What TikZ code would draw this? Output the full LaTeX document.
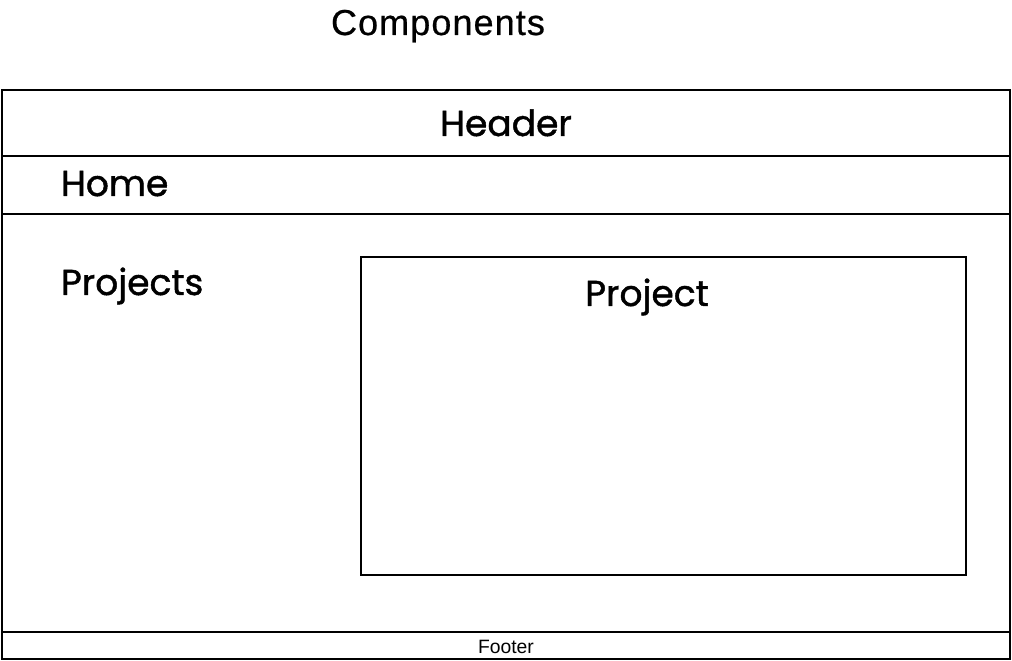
\documentclass[tikz,border=0pt]{standalone}
\usepackage{fontspec}
\setmainfont{Liberation Sans}
\newfontfamily\handfont[FakeBold=1.2]{Poppins}
\newfontfamily\titlefont[FakeBold=0.6, LetterSpace=3]{Liberation Sans}
\usepackage{tikz}
\usetikzlibrary{positioning}

\begin{document}
\begin{tikzpicture}[x=0.02cm, y=-0.02cm, line width=1.1pt]
  \tikzset{
    label/.style={inner sep=0pt, font=\handfont\fontsize{20.5}{24}\selectfont},
    small/.style={inner sep=0pt, font=\fontsize{11}{13}\selectfont}
  }
  \useasboundingbox (0,0) rectangle (1012,661);

  \node[inner sep=0pt, anchor=base, font=\titlefont\fontsize{20.5}{24}\selectfont] (title) at (438,35) {Components};

  % page frame and bands
  \draw (2,90) rectangle (1010,659);
  \draw (2,156) -- (1010,156);
  \draw (2,214) -- (1010,214);
  \draw (2,632) -- (1010,632);
  \draw (361,257) rectangle (966,575);

  \node[label, anchor=base] (header) at (506,136) {Header};
  \node[label, anchor=base west] (home) at (60,196) {Home};
  \node[label, anchor=base west] (projects) at (60,295) {Projects};
  \node[label, anchor=base] (project) at (647,306) {Project};
  \node[small, anchor=base] (footer) at (506,654) {Footer};
\end{tikzpicture}
\end{document}
